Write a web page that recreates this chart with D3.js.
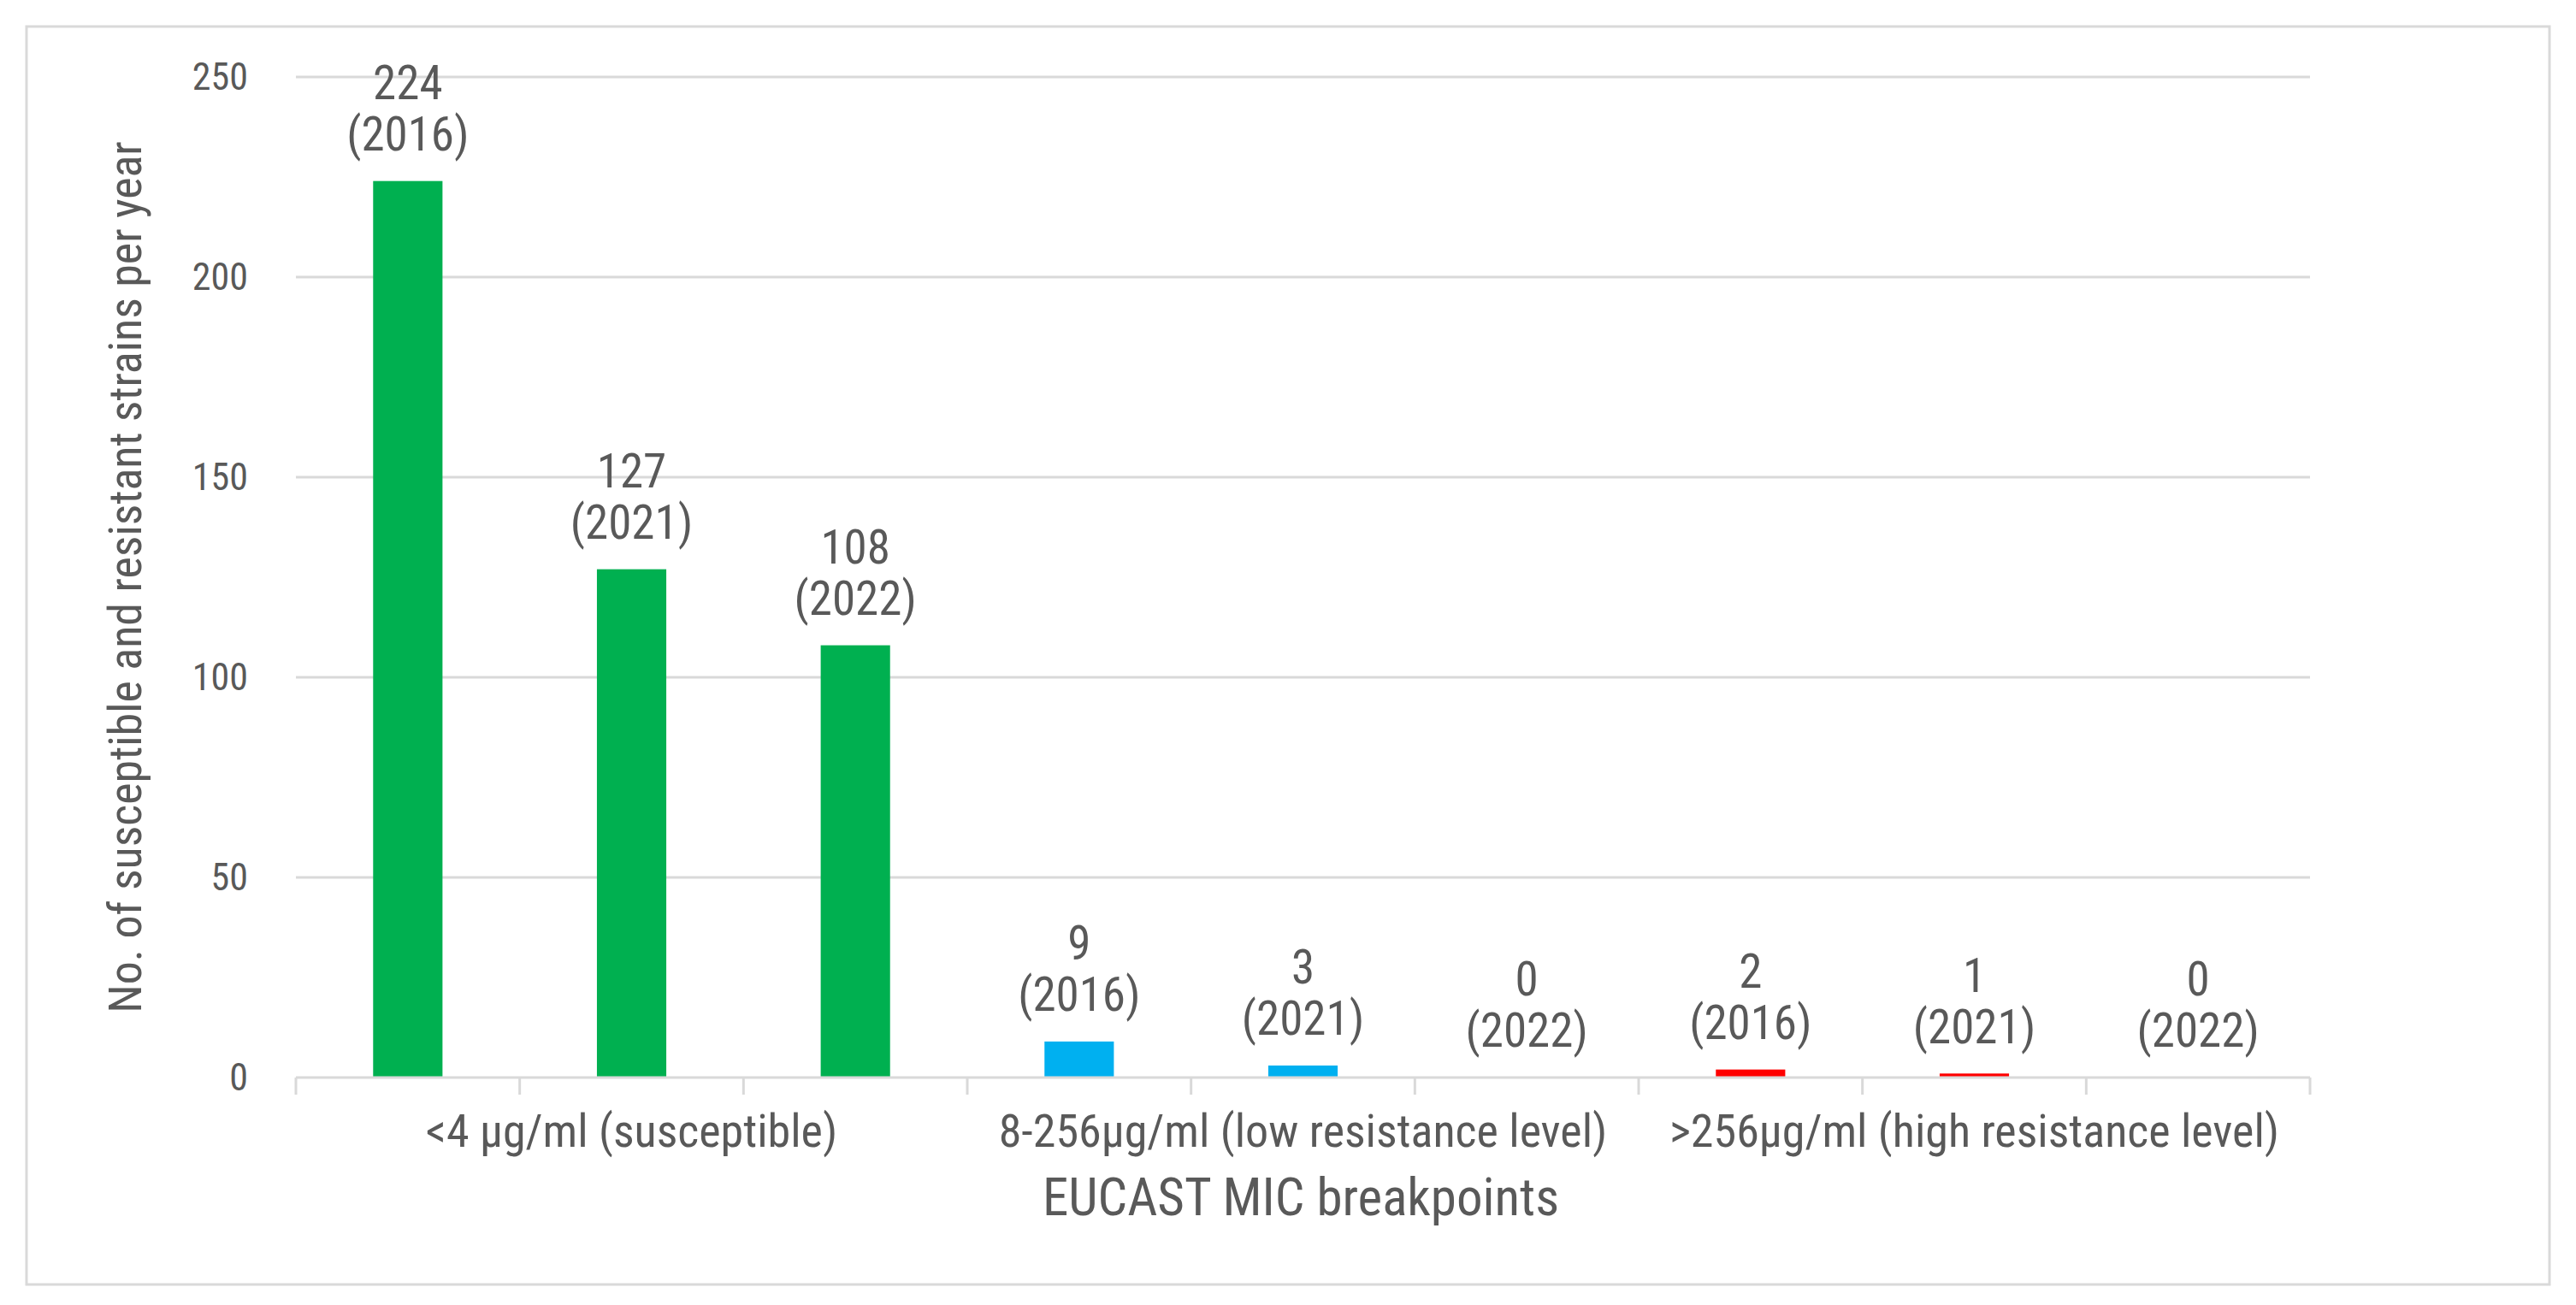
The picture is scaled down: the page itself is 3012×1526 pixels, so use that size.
<!DOCTYPE html>
<html><head><meta charset="utf-8">
<script src="https://cdn.jsdelivr.net/npm/d3@7"></script>
<style>
html,body{margin:0;padding:0;background:#fff;}
text{font-family:"Liberation Sans Narrow","Roboto Condensed","Liberation Sans",sans-serif;fill:#595959;}
</style></head>
<body><svg id="c" width="3012" height="1526"></svg>
<script>
const groups = ["<4 µg/ml (susceptible)", "8-256µg/ml (low resistance level)", ">256µg/ml (high resistance level)"];
const years = ["2016", "2021", "2022"];
const susceptible = [224, 127, 108];
const lowResistance = [9, 3, 0];
const highResistance = [2, 1, 0];
const groupColors = ["#00B050", "#00B0F0", "#FF0000"];
const yTicks = [0, 50, 100, 150, 200, 250];
const yTitle = "No. of susceptible and resistant strains per year";
const xTitle = "EUCAST MIC breakpoints";

const series = [susceptible, lowResistance, highResistance];
const data = [];
series.forEach((vals, gi) => vals.forEach((v, yi) => data.push({key: gi + "-" + yi, group: gi, year: years[yi], value: v})));

const svg = d3.select("#c");
svg.append("rect").attr("x", 31).attr("y", 31).attr("width", 2950).attr("height", 1471)
  .attr("fill", "#fff").attr("stroke", "#D9D9D9").attr("stroke-width", 3);

const x = d3.scaleBand().domain(data.map(d => d.key)).range([346, 2701]).paddingInner(0.69).paddingOuter(0.345);
const y = d3.scaleLinear().domain([0, 250]).range([1260, 90]);

// gridlines
svg.append("g").selectAll("line").data(yTicks.filter(t => t > 0)).join("line")
  .attr("x1", 346).attr("x2", 2701).attr("y1", d => y(d)).attr("y2", d => y(d))
  .attr("stroke", "#D9D9D9").attr("stroke-width", 3);

// y tick labels
svg.append("g").selectAll("text").data(yTicks).join("text")
  .attr("x", 290).attr("y", d => y(d)).attr("dy", "0.35em").attr("text-anchor", "end")
  .attr("font-size", 44).text(d => d);

// bars
svg.append("g").selectAll("rect").data(data).join("rect")
  .attr("x", d => x(d.key)).attr("width", x.bandwidth())
  .attr("y", d => y(d.value)).attr("height", d => y(0) - y(d.value))
  .attr("fill", d => groupColors[d.group]);

// axis line and ticks
const step = x.step();
const bounds = d3.range(data.length + 1).map(i => 346 + i * step);
svg.append("line").attr("x1", 346).attr("x2", 2701).attr("y1", y(0)).attr("y2", y(0))
  .attr("stroke", "#D9D9D9").attr("stroke-width", 3);
svg.append("g").selectAll("line").data(bounds).join("line")
  .attr("x1", d => d).attr("x2", d => d).attr("y1", y(0)).attr("y2", y(0) + 20)
  .attr("stroke", "#D9D9D9").attr("stroke-width", 3);

// data labels
const lab = svg.append("g").selectAll("g").data(data).join("g")
  .attr("transform", d => `translate(${x(d.key) + x.bandwidth() / 2},${y(d.value)})`);
lab.append("text").attr("y", -115).attr("dy", "0.35em").attr("text-anchor", "middle").attr("font-size", 55).text(d => d.value);
lab.append("text").attr("y", -55).attr("dy", "0.35em").attr("text-anchor", "middle").attr("font-size", 55).text(d => "(" + d.year + ")");

// group labels
svg.append("g").selectAll("text").data(groups).join("text")
  .attr("x", (d, i) => 346 + (i * 3 + 1.5) * step).attr("y", 1322).attr("dy", "0.35em")
  .attr("text-anchor", "middle").attr("font-size", 54).text(d => d);

svg.append("text").attr("x", 1521).attr("y", 1400).attr("dy", "0.35em").attr("text-anchor", "middle")
  .attr("font-size", 61).text(xTitle);
svg.append("text").attr("transform", "translate(146,675) rotate(-90)").attr("dy", "0.35em")
  .attr("text-anchor", "middle").attr("font-size", 54).text(yTitle);
</script></body></html>
